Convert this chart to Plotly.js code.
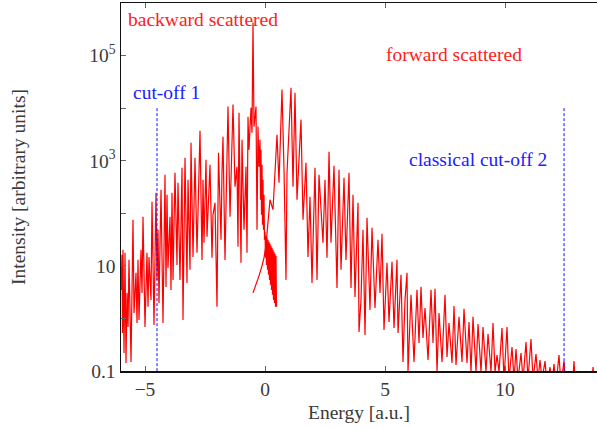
<!DOCTYPE html>
<html>
<head>
<meta charset="utf-8">
<script src="https://cdn.plot.ly/plotly-3.0.1.min.js"></script>
<style>html,body{margin:0;padding:0;background:#fff;}#chart{width:597px;height:428px;}</style>
</head>
<body>
<div id="chart"></div>
<script>
// Backward-scattered part of the spectrum (Energy in a.u., intensity in arbitrary units)
const energyBack = [
 -6.0,-5.958,-5.938,-5.917,-5.875,-5.833,-5.792,-5.75,-5.708,-5.667,-5.583,-5.5,-5.458,-5.375,-5.333,-5.292,-5.25,-5.167,-5.125,-5.083,
 -5.0,-4.917,-4.875,-4.833,-4.75,-4.708,-4.625,-4.542,-4.5,-4.458,-4.417,-4.333,-4.25,-4.167,-4.125,-4.083,-4.042,-3.958,-3.917,-3.875,
 -3.833,-3.75,-3.667,-3.625,-3.542,-3.458,-3.417,-3.333,-3.25,-3.208,-3.125,-3.083,-3.0,-2.917,-2.833,-2.708,-2.625,-2.583,-2.542,-2.458,
 -2.417,-2.292,-2.208,-2.167,-2.083,-2.0,-1.938,-1.833,-1.792,-1.75,-1.667,-1.583,-1.542,-1.458,-1.333,-1.25,-1.167,-1.125,-1.083,-1.0,
 -0.958,-0.875,-0.792,-0.75,-0.708,-0.667,-0.583,-0.542,-0.5,-0.458,-0.375,-0.333,-0.292,-0.25,-0.208,-0.1875,-0.167,-0.146,-0.125,-0.104,
 -0.083,-0.0625,-0.042,-0.021,0.0,0.021,0.042,0.0625,0.083,0.104,0.125,0.146,0.167,0.1875,0.208,0.229,0.25,0.271,0.292,0.3125,
 0.333,0.354,0.375,0.396,0.417,0.4375,0.458,0.479
];
const intensityBack = [
 3.49,16.2,0.53,20.2,0.22,17.7,0.142,3.06,0.689,13.0,0.148,75.2,1.27,7.36,0.821,13.0,0.936,20.2,3.06,85.8,
 0.689,17.7,1.66,14.8,2.25,166,0.751,245,5.41,48.5,1.97,281,0.821,541,3.98,225,9.16,85.8,3.49,245,
 5.41,591,10.4,381,5.41,736,0.936,1140,4.74,434,8.40,2200,14.8,1140,17.7,3730,13.0,434,27.4,1040,
 35.7,840,14.2,93.6,158,1.66,1420,31.3,591,2870,13.0,1620,10700,85.8,11700,320,769,23.0,8200,11.4,
 2510,48.5,769,17.7,6890,1620,10200,3410,425000,4450,10700,48.5,4450,769,2510,181,1620,93.6,840,60.4,
 434,48.5,225,31.3,44.5,14.2,37.3,10.4,34.2,8.40,31.3,6.75,28.7,5.41,26.2,4.35,24.0,3.49,22.0,2.81,
 20.2,2.25,18.5,1.97,16.9,1.66,15.5,1.66
];
// Forward-scattered part of the spectrum
const energyFwd = [
 -0.5,-0.375,-0.25,-0.125,-0.042,0.042,0.125,0.208,0.333,0.5,0.583,0.708,0.792,0.875,0.917,1.083,1.167,1.25,1.333,1.5,
 1.583,1.708,1.792,1.875,1.958,2.083,2.167,2.25,2.417,2.5,2.583,2.667,2.75,2.875,3.0,3.083,3.167,3.292,3.375,3.5,
 3.583,3.667,3.75,3.875,3.917,4.0,4.083,4.167,4.25,4.375,4.458,4.583,4.708,4.792,4.875,4.958,5.083,5.167,5.292,5.375,
 5.5,5.542,5.667,5.75,5.833,5.917,5.958,6.083,6.208,6.333,6.417,6.5,6.583,6.667,6.792,6.917,7.0,7.083,7.167,7.25,
 7.375,7.5,7.583,7.667,7.792,7.875,7.958,8.083,8.208,8.292,8.417,8.5,8.583,8.667,8.792,8.875,9.0,9.083,9.208,9.292,
 9.417,9.5,9.583,9.667,9.75,9.875,9.958,10.083,10.167,10.292,10.375,10.458,10.542,10.667,10.75,10.875,10.958,11.083,11.167,11.292,
 11.375,11.458,11.542,11.667,11.75,11.875,11.958,12.042,12.125,12.25,12.333,12.458,12.542,12.792,12.875,12.958,13.583,13.667,13.75,14.0
];
const intensityFwd = [
 3.06,4.35,6.46,10.0,14.2,25.1,60.4,181,117,3130,381,22500,675,5.41,591,24500,320,19700,181,6040,
 75.2,916,14.8,206,4.74,736,5.41,541,27.4,434,14.2,1480,27.4,804,3.81,675,8.40,474,13.0,591,
 3.81,225,2.57,158,0.553,2.25,48.5,0.485,82.0,1.45,53.0,1.58,31.3,3.06,40.7,0.604,11.4,0.857,11.9,0.659,
 13.0,0.530,6.75,0.148,2.25,7.36,0.096,2.81,0.148,3.49,0.341,3.98,0.425,1.58,0.162,3.49,0.341,3.65,0.096,1.27,
 0.148,2.81,0.185,0.821,0.142,1.73,0.130,1.07,0.148,1.52,0.142,0.857,0.096,1.07,0.096,0.785,0.096,0.689,0.096,0.507,
 0.096,0.821,0.096,0.202,0.096,0.659,0.067,0.689,0.067,0.286,0.067,0.262,0.067,0.220,0.067,0.357,0.067,0.407,0.067,0.211,
 0.067,0.162,0.067,0.155,0.054,0.119,0.054,0.136,0.054,0.202,0.054,0.155,0.043,0.035,0.155,0.035,0.035,0.119,0.035,0.03
];
// Cut-off markers
const cutoff1 = -4.5;
const cutoff2 = 12.46;
const cutoffSpan = [10000, 0.05];
// Axis ticks
const yTickVals = [0.1, 1, 10, 100, 1000, 10000, 100000, 1000000];
const yTickText = ["0.1", "", "10", "", "10<sup>3</sup>", "", "10<sup>5</sup>", ""];
const xTickVals = [-5, 0, 5, 10];

const FONT = "Liberation Serif, DejaVu Serif, serif";
const FS = 19.5;
const red = "#ff0000";
const blue = "#1010ff";
const txt = "#3a3a3a";

const traces = [
  {x: energyBack, y: intensityBack, type: "scatter", mode: "lines",
   line: {color: red, width: 1.2}, hoverinfo: "skip"},
  {x: energyFwd, y: intensityFwd, type: "scatter", mode: "lines",
   line: {color: red, width: 1.2}, hoverinfo: "skip"},
  {x: [cutoff1, cutoff1], y: cutoffSpan, type: "scatter", mode: "lines",
   line: {color: blue, width: 1, dash: "3px,2px"}, hoverinfo: "skip"},
  {x: [cutoff2, cutoff2], y: cutoffSpan, type: "scatter", mode: "lines",
   line: {color: blue, width: 1, dash: "3px,2px"}, hoverinfo: "skip"}
];

const layout = {
  width: 597, height: 428,
  margin: {l: 121, r: 0, t: 3, b: 57},
  paper_bgcolor: "#fff", plot_bgcolor: "#fff",
  showlegend: false,
  font: {family: FONT, size: FS, color: txt},
  xaxis: {
    range: [-6, 13.833], tickvals: xTickVals, ticks: "inside", ticklen: 5, tickwidth: 1, tickcolor: "#666",
    showline: true, linecolor: "#111", linewidth: 1.5, mirror: "ticks", showgrid: false, zeroline: false,
    tickfont: {family: FONT, size: FS, color: txt},
    title: {text: "Energy [a.u.]", font: {family: FONT, size: FS, color: txt}, standoff: 6}
  },
  yaxis: {
    type: "log", range: [-1, 6], tickvals: yTickVals, ticktext: yTickText, ticks: "inside", ticklen: 5, tickwidth: 1, tickcolor: "#666",
    showline: true, linecolor: "#111", linewidth: 1.5, mirror: false, showgrid: false, zeroline: false,
    tickfont: {family: FONT, size: FS, color: txt},
    title: {text: "Intensity [arbitrary units]", font: {family: FONT, size: FS, color: txt}, standoff: 58}
  },
  annotations: [
    {text: "backward scattered", x: -2.583, y: 5.686, xref: "x", yref: "y", showarrow: false,
     font: {family: FONT, size: FS, color: "#ff2020"}},
    {text: "forward scattered", x: 7.875, y: 5.019, xref: "x", yref: "y", showarrow: false,
     font: {family: FONT, size: FS, color: "#ff2020"}},
    {text: "cut-off 1", x: -4.125, y: 4.295, xref: "x", yref: "y", showarrow: false,
     font: {family: FONT, size: FS, color: "#2020ff"}},
    {text: "classical cut-off 2", x: 8.854, y: 3.019, xref: "x", yref: "y", showarrow: false,
     font: {family: FONT, size: FS, color: "#2020ff"}}
  ]
};

Plotly.newPlot("chart", traces, layout, {staticPlot: true, displayModeBar: false});
</script>
</body>
</html>
